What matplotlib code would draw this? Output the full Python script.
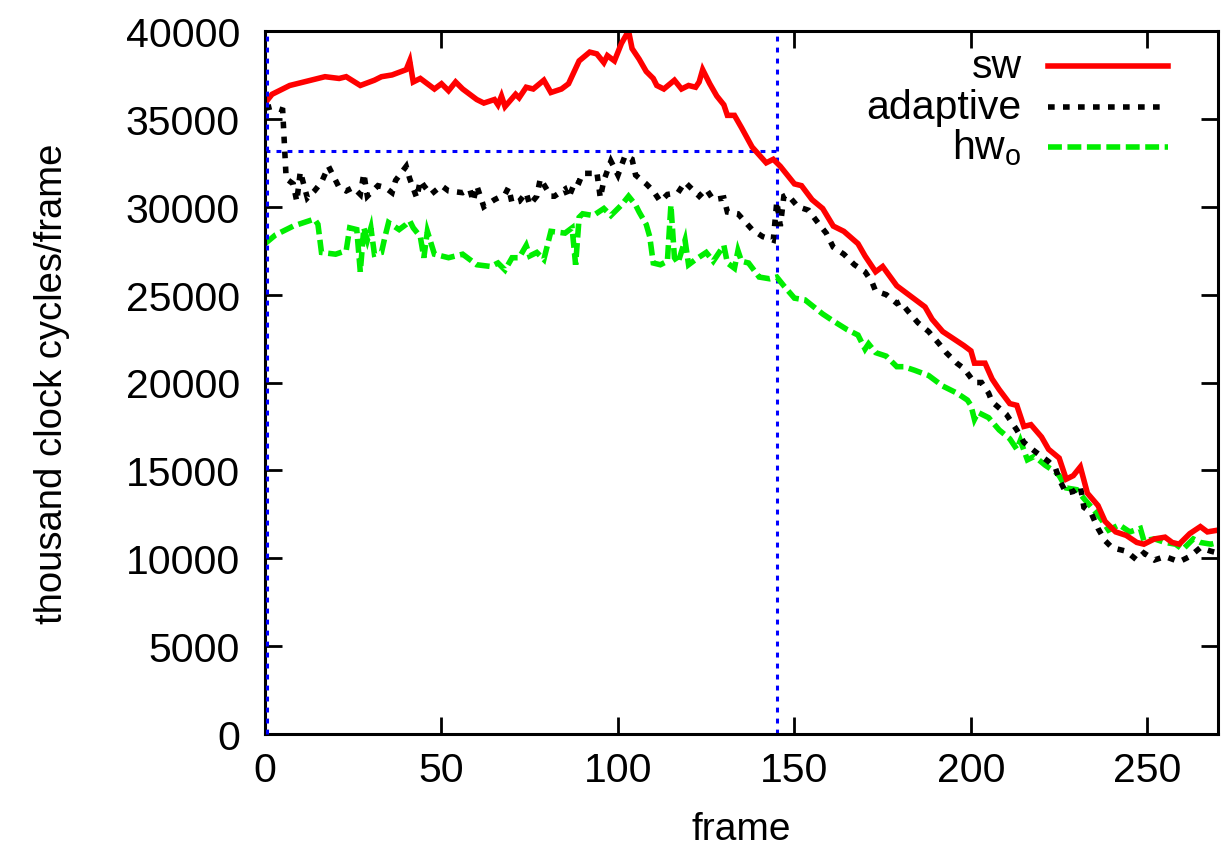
import matplotlib
matplotlib.use("Agg")
import matplotlib.pyplot as plt
from matplotlib.lines import Line2D

plt.rcParams['font.family'] = ['Liberation Sans', 'DejaVu Sans']

# ---- data ----
sw_frames = [0, 2, 7, 17, 21, 23, 27, 31, 33, 36, 40, 41, 42, 44, 48, 50, 52, 54, 56, 60,
             62, 65, 66, 67, 68, 71, 72, 74, 76, 79, 81, 84, 86, 89, 92, 94, 96, 97, 99, 101,
             103, 104, 106, 108, 110, 111, 113, 116, 118, 120, 122, 123, 124, 126, 128, 130, 131, 133, 135, 138,
             142, 144, 146, 150, 152, 155, 158, 161, 164, 168, 170, 173, 175, 179, 183, 187, 189, 192, 195, 198,
             200, 201, 204, 206, 208, 211, 213, 215, 217, 220, 222, 225, 227, 229, 231, 233, 236, 238, 241, 244,
             247, 249, 252, 255, 257, 259, 262, 265, 267, 270]
sw_values = [35900, 36400, 36900, 37400, 37300, 37400, 36900, 37200, 37400, 37500, 37800, 38300, 37100, 37300, 36700, 37000, 36600, 37100, 36700, 36100,
             35900, 36100, 35800, 36300, 35700, 36400, 36200, 36800, 36700, 37200, 36500, 36700, 37000, 38300, 38800, 38700, 38200, 38600, 38300, 39300,
             40000, 39000, 38400, 37700, 37300, 36900, 36700, 37200, 36700, 36900, 36800, 37100, 37800, 37000, 36300, 35800, 35200, 35200, 34500, 33400,
             32500, 32700, 32300, 31300, 31200, 30400, 29900, 28900, 28600, 27900, 27200, 26300, 26600, 25500, 24900, 24300, 23600, 22900, 22500, 22100,
             21800, 21100, 21100, 20200, 19600, 18800, 18700, 17500, 17600, 16900, 16200, 15700, 14500, 14700, 15200, 13700, 13000, 12100, 11500, 11300,
             10900, 10800, 11100, 11200, 10900, 10800, 11400, 11800, 11500, 11600]

adaptive_frames = [0, 2, 5, 6, 8, 9, 10, 12, 14, 16, 18, 19, 21, 23, 25, 27, 28, 29, 32, 34,
                   36, 37, 40, 41, 43, 44, 45, 47, 50, 52, 56, 58, 59, 60, 62, 65, 68, 69, 70, 72,
                   74, 75, 77, 78, 81, 82, 85, 86, 88, 89, 90, 93, 94, 95, 96, 98, 100, 102, 104, 105,
                   108, 110, 112, 114, 117, 119, 123, 125, 127, 130, 131, 134, 138, 141, 144, 145, 146, 147, 148, 151,
                   154, 157, 159, 161, 164, 167, 170, 172, 173, 176, 179, 180, 182, 185, 188, 191, 193, 196, 198, 201,
                   203, 205, 206, 210, 213, 215, 218, 222, 224, 225, 227, 229, 231, 232, 234, 236, 238, 240, 244, 247,
                   249, 252, 255, 259, 262, 265, 268, 270]
adaptive_values = [35600, 35700, 35500, 31600, 31300, 30300, 32000, 30500, 30900, 31400, 32300, 31900, 31100, 30900, 31100, 30700, 31900, 30600, 31200, 31100,
                   30800, 31500, 32300, 31600, 30500, 31500, 31200, 30700, 31200, 30900, 30800, 31000, 30300, 31200, 30000, 30400, 30700, 31100, 30200, 30300,
                   30800, 30100, 30600, 31600, 30600, 30600, 31000, 30500, 31500, 31400, 31900, 31900, 32000, 30500, 31500, 32600, 31800, 32900, 32700, 31800,
                   31300, 30900, 30300, 30700, 30800, 31400, 30600, 31000, 30400, 30500, 29700, 29600, 28700, 28300, 28100, 30300, 28900, 30600, 30700, 30000,
                   29800, 29000, 28500, 27700, 27300, 26700, 26300, 25700, 25200, 25000, 24500, 24600, 24100, 23400, 22900, 22200, 21700, 21100, 20800, 20000,
                   20000, 19400, 18900, 18200, 17300, 16600, 16100, 15500, 15100, 14500, 13700, 13800, 14100, 12900, 12600, 11700, 11000, 10600, 10400, 9900,
                   10300, 9900, 10100, 9800, 10100, 10600, 10400, 10300]

hw_frames = [0, 3, 8, 14, 15, 16, 20, 23, 24, 26, 27, 28, 29, 30, 31, 33, 34, 35, 38, 40,
             41, 42, 44, 45, 46, 48, 52, 56, 60, 64, 66, 68, 70, 72, 74, 75, 77, 79, 80, 81,
             85, 87, 88, 89, 90, 93, 96, 98, 101, 103, 105, 106, 108, 109, 110, 112, 114, 115, 116, 117,
             119, 120, 122, 125, 127, 130, 131, 133, 134, 135, 137, 140, 143, 145, 147, 150, 153, 158, 161, 165,
             168, 170, 171, 173, 176, 179, 181, 184, 188, 192, 196, 199, 200, 201, 202, 205, 208, 211, 213, 214,
             216, 218, 221, 224, 225, 227, 230, 232, 235, 237, 239, 242, 245, 248, 249, 252, 255, 258, 260, 263,
             265, 268, 270]
hw_values = [27900, 28400, 28900, 29300, 29000, 27400, 27300, 27500, 28800, 28700, 26300, 28800, 28100, 28800, 27300, 27400, 28300, 29100, 28700, 29000,
             29200, 28800, 28300, 27100, 28600, 27300, 27100, 27300, 26700, 26600, 26800, 26400, 27100, 27100, 27800, 27200, 27400, 27000, 27800, 28600,
             28500, 28800, 26700, 29400, 29600, 29500, 29900, 29500, 30100, 30600, 30100, 29700, 29000, 28300, 26800, 26700, 26900, 30100, 27100, 26800,
             28100, 26700, 27000, 27400, 26900, 27800, 26800, 26500, 27500, 26900, 26800, 26000, 25900, 26000, 25500, 24800, 24700, 23900, 23500, 23000,
             22700, 21900, 22200, 21700, 21500, 20900, 20900, 20700, 20400, 19800, 19400, 19000, 18700, 17900, 18300, 18000, 17300, 16800, 16200, 16700,
             15600, 15800, 15300, 14900, 14700, 14000, 13900, 13400, 12700, 12200, 11600, 11900, 11500, 11700, 11000, 11100, 10900, 10800, 10500, 11100,
             10900, 10800, 10900]

guide_frame = 145
guide_level = 33200

series_labels = ['sw', 'adaptive', r'hw$_\mathregular{o}$']

xticks = [0, 50, 100, 150, 200, 250]
yticks = [0, 5000, 10000, 15000, 20000, 25000, 30000, 35000, 40000]

# ---- figure ----
W, H = 1231, 853
fig = plt.figure(figsize=(W / 100, H / 100), dpi=100)
ax = fig.add_axes([265 / W, 1 - 735 / H, (1218 - 265) / W, (735 - 32) / H])

blue = '#0000ff'
gstyle = dict(color=blue, lw=2.2, ls=(0, (1.6, 2.0)))
ax.plot([0.7, 0.7], [0, 40000], zorder=6, clip_on=False, **gstyle)
ax.plot([guide_frame, guide_frame], [0, 40000], zorder=1, **gstyle)
ax.plot([0, guide_frame], [guide_level, guide_level], zorder=1, **gstyle)

joins = dict(solid_joinstyle='miter', dash_joinstyle='miter')
sw_style = dict(color='#ff0000', lw=4.0, ls='-', **joins)
ad_style = dict(color='#000000', lw=4.0, ls=(0, (1.2, 1.5)), **joins)
hw_style = dict(color='#00ee00', lw=4.0, ls=(0, (2.5, 1.0)), **joins)

ax.plot(hw_frames, hw_values, zorder=2, **hw_style)
ax.plot(adaptive_frames, adaptive_values, zorder=3, **ad_style)
ax.plot(sw_frames, sw_values, zorder=4, **sw_style)

ax.set_xlim(0, 270)
ax.set_ylim(0, 40000)
ax.set_xticks(xticks)
ax.set_yticks(yticks)
ax.tick_params(direction='in', length=12, width=2, labelsize=29.5,
               top=True, right=True)
ax.tick_params(axis='y', pad=18)
ax.tick_params(axis='x', pad=12)
for s in ax.spines.values():
    s.set_linewidth(2.2)
    s.set_zorder(5)

ax.set_xlabel('frame', fontsize=28, labelpad=16)
ax.set_ylabel('thousand clock cycles/frame', fontsize=27.5, labelpad=40)

# legend (gnuplot style: right-aligned text, sample on the right)
rows_y = [67, 108, 148]
styles = [sw_style, ad_style, hw_style]
for lab, yy, st in zip(series_labels, rows_y, styles):
    yf = 1 - (yy - 32) / (735 - 32)
    ax.text((1022 - 265) / (1218 - 265), yf, lab, transform=ax.transAxes,
            ha='right', va='center', fontsize=29.5)
    ax.add_line(Line2D([(1048 - 265) / (1218 - 265), (1168 - 265) / (1218 - 265)], [yf, yf],
                       transform=ax.transAxes, **st))

fig.savefig('out.png', dpi=100)
